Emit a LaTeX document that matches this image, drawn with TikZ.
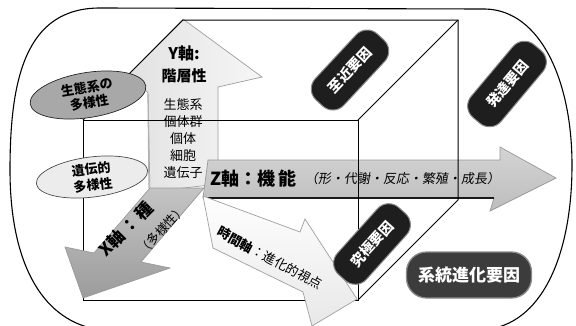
\documentclass[tikz,border=0pt]{standalone}
\usepackage{fontspec}
\setmainfont{Noto Sans CJK JP}
\newfontfamily\jpsl[FakeSlant=0.15]{Noto Sans CJK JP}
\usetikzlibrary{shapes.geometric}
\definecolor{yA}{HTML}{E2E2E2}
\definecolor{yB}{HTML}{F6F6F6}
\definecolor{zA}{HTML}{D4D4D4}
\definecolor{zB}{HTML}{BDBDBD}
\definecolor{xA}{HTML}{C4C4C4}
\definecolor{xB}{HTML}{9C9C9C}
\definecolor{tA}{HTML}{FEFEFE}
\definecolor{tB}{HTML}{E8E8E8}
\definecolor{ellA}{HTML}{A8A8A8}
\definecolor{ellB}{HTML}{ECECEC}
\definecolor{pillfill}{HTML}{1E1E1E}
\definecolor{sysfill}{HTML}{3C3C3C}
\definecolor{edgegray}{HTML}{8A8A8A}
\begin{document}
\begin{tikzpicture}[x=1pt,y=-1pt,
  outerline/.style={line width=1.1pt, black},
  cubeline/.style={line width=1pt, black},
  yarrow/.style={draw=gray!75, line width=0.7pt, left color=yA, right color=yB},
  zarrow/.style={draw=gray!80, line width=0.7pt, top color=zA, bottom color=zB},
  xarrow/.style={draw=gray!80, line width=0.7pt, top color=xA, bottom color=xB},
  tarrow/.style={draw=gray!75, line width=0.7pt, top color=tA, bottom color=tB},
  ellbase/.style={ellipse, line width=0.7pt, inner sep=0pt, align=center,
    font=\bfseries\fontsize{13}{16}\selectfont},
  elldark/.style={ellbase, draw=gray!30!black, fill=ellA},
  elllight/.style={ellbase, draw=gray!60!black, fill=ellB},
  pill/.style={draw=edgegray, line width=1pt, fill=pillfill, rounded corners=15pt,
    minimum width=90pt, minimum height=39pt, inner sep=0pt, text=white,
    font=\bfseries\fontsize{14}{14}\selectfont},
  syspill/.style={draw=edgegray, line width=1.3pt, fill=sysfill, rounded corners=20pt,
    minimum width=125pt, minimum height=46pt, inner sep=0pt, text=white,
    font=\bfseries\fontsize{17}{17}\selectfont},
  lbl/.style={inner sep=0pt, text=black}
]
\useasboundingbox (0,0) rectangle (576,325);
\fill[white] (0,0) rectangle (576,325);

% outer frame
\draw[outerline] (95,329) .. controls (40,318) and (10,260) .. (10,170)
  .. controls (10,80) and (25,8) .. (100,8) -- (485,9)
  .. controls (540,10) and (572,80) .. (572,165)
  .. controls (572,250) and (545,320) .. (490,329);

% cube corners
\coordinate (fa) at (83,120);
\coordinate (fb) at (358,120);
\coordinate (fc) at (358,300);
\coordinate (fd) at (83,300);
\coordinate (ba) at (183,20);
\coordinate (bb) at (458,20);
\coordinate (bc) at (458,200);

% Y arrow
\path[yarrow] (183,19) -- (262,77) -- (218,87) -- (218,184) -- (150,192)
  -- (148,93) -- (130,73) -- cycle;
\draw[line width=1.2pt, gray!60] (148,94) -- (149,188);
% Z arrow
\path[zarrow] (208,160) -- (500,160) -- (500,147) -- (556,178) -- (490,211)
  -- (494,198) -- (203,198) -- cycle;
\draw[line width=2.4pt, gray!20!black] (203,198) -- (494,198);

% cube lines
\draw[cubeline] (fd) -- (fa) -- (fb) -- (fc) -- cycle;
\draw[cubeline] (fa) -- (ba) -- (bb) -- (bc);
\draw[cubeline] (fb) -- (bb);
\draw[cubeline] (fc) -- (bc);

% X arrow
\path[xarrow] (150,188) -- (204,188) -- (141,262) -- (170,268) -- (83,298)
  -- (65,247) -- (94,253) -- cycle;
% time arrow
\path[tarrow] (203,196) -- (300,232) -- (305,219) -- (357,299) -- (312,326)
  -- (303,292) -- (213,248) -- cycle;

% Y texts
\node[lbl, font=\bfseries\fontsize{16}{16}\selectfont] (yt1) at (184,53) {Y軸:};
\node[lbl, font=\bfseries\fontsize{15}{15}\selectfont] (yt2) at (184,76) {階層性};
\node[lbl, align=center, font=\fontsize{13}{17}\selectfont] (ylist) at (183,139)
  {生態系\\個体群\\個体\\細胞\\遺伝子};

% Z texts
\node[lbl, anchor=west, font=\bfseries\fontsize{18}{18}\selectfont] (zt1) at (210,179)
  {Z軸：機\,能};
\node[lbl, anchor=west, font=\jpsl\fontsize{13}{13}\selectfont] (zt2) at (305,179)
  {（形・代謝・反応・繁殖・成長）};

% X texts
\node[lbl, rotate=45, font=\bfseries\fontsize{17}{17}\selectfont] (xt1) at (126,229)
  {X軸\,：\,種};
\node[lbl, rotate=47, font=\fontsize{12.5}{12.5}\selectfont] (xt2) at (162,230)
  {（多様性）};

% time text
\node[lbl, rotate=-28, font=\fontsize{13}{13}\selectfont] (tt) at (270,258)
  {\textbf{時間軸}：進化的視点};

% ellipses
\node[elldark, minimum width=117pt, minimum height=45pt, rotate=9] (eco) at (88,95)
  {生態系の\\多様性};
\node[elllight, minimum width=112pt, minimum height=38pt, rotate=7] (gen) at (92,177)
  {遺伝的\\多様性};

% factor pills
\node[pill, rotate=47] (prox) at (350,70) {至近要因};
\node[pill, rotate=50, minimum width=95pt] (dev) at (507,84) {発達要因};
\node[pill, rotate=48] (ult) at (372,244) {究極要因};
\node[syspill] (phy) at (469,275) {系統進化要因};
\end{tikzpicture}
\end{document}
